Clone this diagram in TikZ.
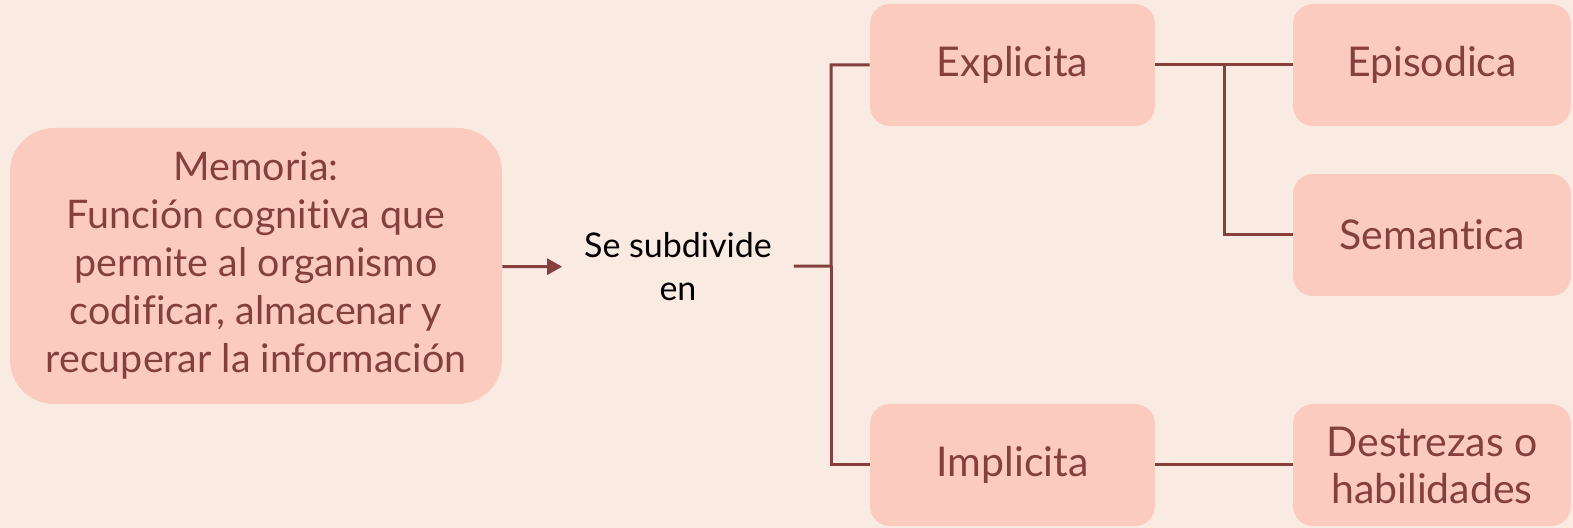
\documentclass[tikz,border=0pt]{standalone}
\usepackage{fontspec}
\setmainfont[Ligatures=NoCommon]{Lato}
\usetikzlibrary{arrows.meta}
\definecolor{fondo}{RGB}{250,235,226}
\definecolor{rosa}{RGB}{251,203,192}
\definecolor{tinta}{RGB}{133,64,62}
\begin{document}
\begin{tikzpicture}[x=0.5pt,y=-0.5pt,
	caja/.style={fill=rosa,text=tinta,rounded corners=10pt,minimum width=142.5pt,
		minimum height=61pt,inner sep=0,align=center,font=\fontsize{20.5}{23.5}\selectfont},
	rama/.style={draw=tinta,line width=1.5pt}]
\fill[fondo] (0,0) rectangle (1573,528);
\useasboundingbox (0,0) rectangle (1573,528);
% nodos
\node[caja,minimum width=246pt,minimum height=138pt,rounded corners=22pt,
	font=\fontsize{19.7}{24}\selectfont] (mem) at (256,266)
	{Memoria:\\Función cognitiva que\\permite al organismo\\codificar, almacenar y\\recuperar la información};
\node[text=black,minimum width=115.5pt,inner sep=0,align=center,
	font=\fontsize{17}{21.5}\selectfont] (sub) at (678,267) {Se subdivide\\en};
\node[caja] (expl) at (1012.5,65) {Explicita};
\node[caja] (impl) at (1012.5,465) {Implicita};
\node[caja,minimum width=139pt] (epi) at (1432,65) {Episodica};
\node[caja,minimum width=139pt] (sem) at (1432,235) {Semantica};
\node[caja,minimum width=139pt] (des) at (1432,465) {Destrezas o\\habilidades};
\coordinate (f1) at (831,266);
\coordinate (f2) at (1224,65);
% conectores
\draw[rama,-{Triangle[length=7.5pt,width=8pt]}] (mem) -- (sub);
\draw[rama] (sub) -- (f1) |- (expl);
\draw[rama] (f1) |- (impl);
\draw[rama] (expl) -- (epi);
\draw[rama] (f2) |- (sem);
\draw[rama] (impl) -- (des);
\end{tikzpicture}
\end{document}
